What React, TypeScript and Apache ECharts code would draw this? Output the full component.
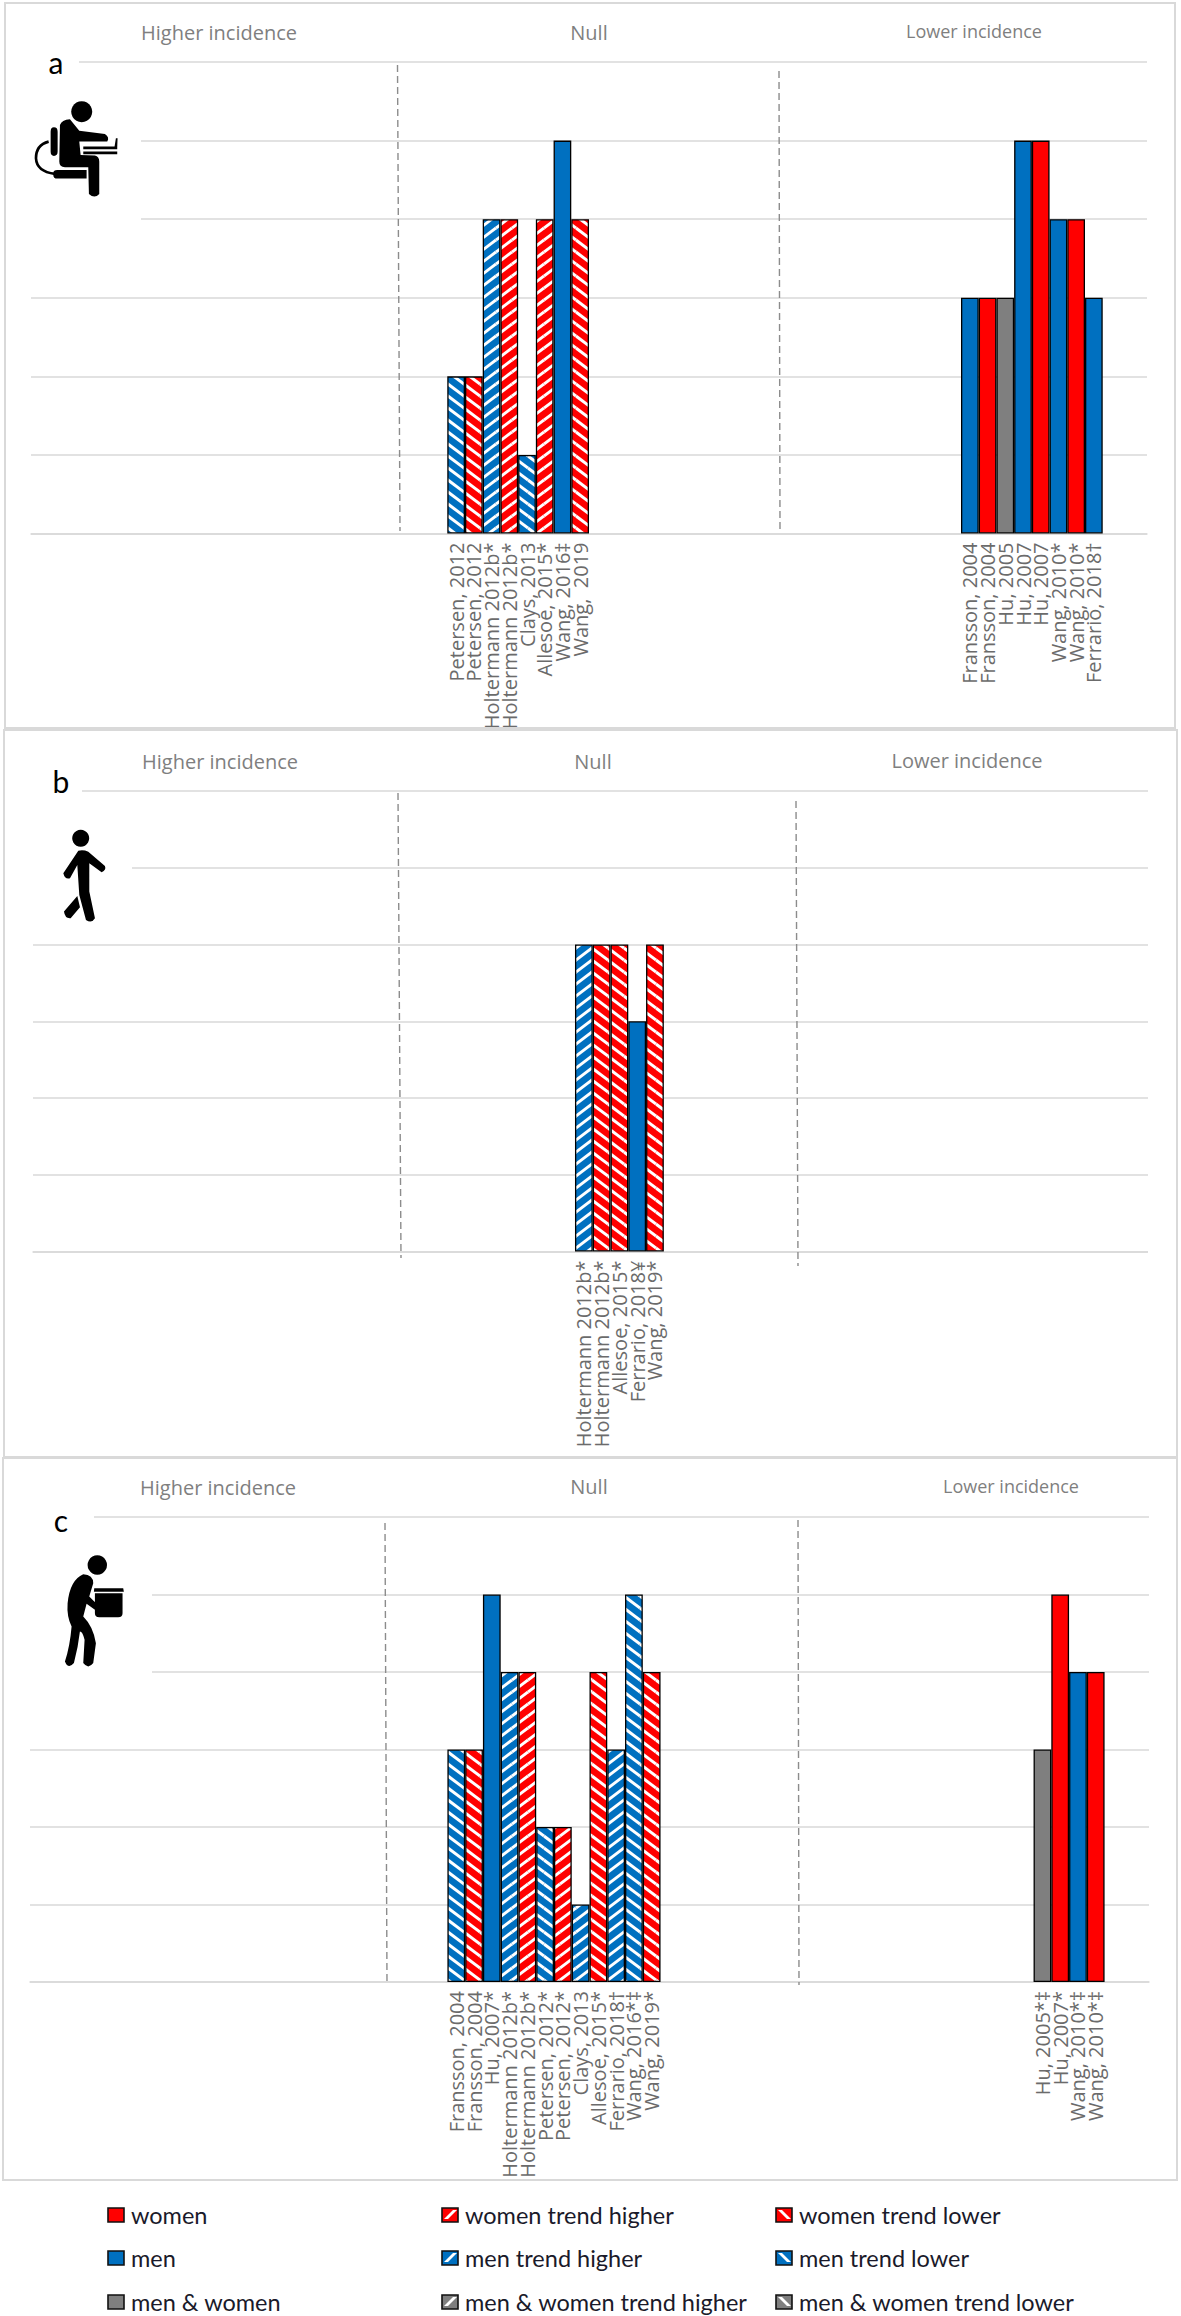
import React, { useEffect, useRef } from "react";
import * as echarts from "echarts";

const panelACategories = ["Petersen, 2012", "Petersen, 2012", "Holtermann 2012b*", "Holtermann 2012b*", "Clays, 2013", "Allesoe, 2015*", "Wang, 2016‡", "Wang,  2019"];
const panelAValues = [2, 2, 4, 4, 1, 4, 5, 4];
const panelAKinds = ["mL", "wL", "mH", "wH", "mL", "wH", "m", "wL"];
const panelALowerCategories = ["Fransson, 2004", "Fransson, 2004", "Hu, 2005", "Hu, 2007", "Hu, 2007", "Wang, 2010*", "Wang, 2010*", "Ferrario, 2018†"];
const panelALowerValues = [3, 3, 3, 5, 5, 4, 4, 3];
const panelALowerKinds = ["m", "w", "g", "m", "w", "m", "w", "m"];

const panelBCategories = ["Holtermann 2012b*", "Holtermann 2012b*", "Allesoe, 2015*", "Ferrario, 2018¥", "Wang, 2019*"];
const panelBValues = [4, 4, 4, 3, 4];
const panelBKinds = ["mH", "wL", "wL", "m", "wL"];

const panelCCategories = ["Fransson, 2004", "Fransson, 2004", "Hu, 2007*", "Holtermann 2012b*", "Holtermann 2012b*", "Petersen, 2012*", "Petersen, 2012*", "Clays, 2013", "Allesoe, 2015*", "Ferrario, 2018†", "Wang, 2016*‡", "Wang, 2019*"];
const panelCValues = [3, 3, 5, 4, 4, 2, 2, 1, 4, 3, 5, 4];
const panelCKinds = ["mL", "wL", "m", "mH", "wH", "mL", "wH", "mH", "wL", "mH", "mL", "wL"];
const panelCLowerCategories = ["Hu, 2005*‡", "Hu, 2007*", "Wang, 2010*‡", "Wang, 2010*‡"];
const panelCLowerValues = [3, 5, 4, 4];
const panelCLowerKinds = ["g", "w", "m", "w"];

const headers = ["Higher incidence", "Null", "Lower incidence"];
const legendRows = [
  [["women", "w"], ["women trend higher", "wH"], ["women trend lower", "wL"]],
  [["men", "m"], ["men trend higher", "mH"], ["men trend lower", "mL"]],
  [["men & women", "g"], ["men & women trend higher", "gH"], ["men & women trend lower", "gL"]],
];

const RED = "#FF0000";
const BLUE = "#0070C0";
const GREY = "#7F7F7F";
const baseColor = (k: string) => (k[0] === "w" ? RED : k[0] === "m" ? BLUE : GREY);

function hatch(color: string, up: boolean) {
  const w = 16;
  const h = 12;
  const c = document.createElement("canvas");
  c.width = w;
  c.height = h;
  const g = c.getContext("2d")!;
  g.fillStyle = color;
  g.fillRect(0, 0, w, h);
  g.strokeStyle = "#ffffff";
  g.lineWidth = 3;
  for (const [dx, dy] of [[-w, 0], [0, 0], [w, 0], [0, -h], [0, h], [-w, h], [w, -h], [-w, -h], [w, h]]) {
    g.beginPath();
    if (up) {
      g.moveTo(dx, dy + h);
      g.lineTo(dx + w, dy);
    } else {
      g.moveTo(dx, dy);
      g.lineTo(dx + w, dy + h);
    }
    g.stroke();
  }
  return { image: c, repeat: "repeat" };
}

const ICON_A = "M120 105 Q125 90 150 88 L178 122 L255 132 Q270 142 262 155 L178 155 L182 195 L225 197 Q238 200 238 215 L238 312 Q224 328 207 312 L205 232 L135 232 Q118 232 118 215 Z M92 125 Q92 112 102 112 Q113 112 113 125 L113 185 Q113 198 102 198 Q92 198 92 185 Z M100 250 Q100 240 112 240 L200 240 L200 266 L112 266 Q100 266 100 255 Z M190 170 L292 170 L292 178 L190 178 Z M190 185 L292 185 L292 193 L190 193 Z M284 170 L288 145 L293 145 L292 172 Z";
const ICON_A_ARC = "M86 155 Q48 165 48 205 Q50 245 105 252";
const ICON_B = "M85 92 Q100 88 115 95 L165 138 Q170 150 155 157 L118 130 L118 215 L135 295 Q125 312 108 300 L88 225 L82 135 L60 175 Q45 180 40 160 Z M82 228 L90 262 L62 295 Q45 297 42 275 Z";
const ICON_C = "M250 373 Q280 375 280 400 L268 440 L290 462 L285 480 L260 462 L250 500 Q280 530 288 580 L280 640 Q265 660 250 640 L254 570 Q248 545 240 545 Q235 590 222 640 Q205 660 195 635 Q210 590 215 530 Q200 500 203 460 Q210 390 250 373 Z M285 430 L368 430 L368 490 Q368 502 355 502 L298 502 Q285 502 285 490 Z M283 415 L370 415 L372 426 L282 426 Z";

function App() {
  const ref = useRef<HTMLDivElement>(null);
  useEffect(() => {
    document.body.style.margin = "0";
    echarts.graphic.registerShape("iconA", echarts.graphic.extendPath(ICON_A, {}));
    echarts.graphic.registerShape("iconAArc", echarts.graphic.extendPath(ICON_A_ARC, {}));
    echarts.graphic.registerShape("iconB", echarts.graphic.extendPath(ICON_B, {}));
    echarts.graphic.registerShape("iconC", echarts.graphic.extendPath(ICON_C, {}));
    const chart = echarts.init(ref.current!, null, { renderer: "svg" });

    const fills: Record<string, any> = {
      w: RED, m: BLUE, g: GREY,
      wH: hatch(RED, true), wL: hatch(RED, false),
      mH: hatch(BLUE, true), mL: hatch(BLUE, false),
    };

    const panels = [
      { left: 31, width: 1116, top: 62, height: 471.5, before: 24, cats: panelACategories, vals: panelAValues, kinds: panelAKinds, lcats: panelALowerCategories, lvals: panelALowerValues, lkinds: panelALowerKinds },
      { left: 33, width: 1119.5, top: 791, height: 460.5, before: 31, cats: panelBCategories, vals: panelBValues, kinds: panelBKinds, lcats: [], lvals: [], lkinds: [] },
      { left: 30, width: 1119, top: 1517, height: 465, before: 24, cats: panelCCategories, vals: panelCValues, kinds: panelCKinds, lcats: panelCLowerCategories, lvals: panelCLowerValues, lkinds: panelCLowerKinds },
    ];
    const TOTAL = 64;
    const GAP = 21;

    const grid: any[] = [];
    const xAxis: any[] = [];
    const yAxis: any[] = [];
    const series: any[] = [];
    panels.forEach((p, i) => {
      const cats = [...p.cats, ...Array(GAP).fill(""), ...p.lcats];
      const vals = [...p.vals, ...Array(GAP).fill(null), ...p.lvals];
      const kinds = [...p.kinds, ...Array(GAP).fill(""), ...p.lkinds];
      const lead = Array(p.before).fill("");
      const tail = Array(Math.max(0, TOTAL - p.before - cats.length)).fill("");
      const categories = [...lead, ...cats, ...tail];
      const data = [...lead.map(() => null), ...vals.map((v, j) => (v == null ? null : {
        value: v,
        itemStyle: { color: fills[kinds[j]], borderColor: "#000", borderWidth: 1.3 },
      })), ...tail.map(() => null)];
      grid.push({ left: p.left, width: p.width, top: p.top, height: p.height, containLabel: false });
      xAxis.push({
        type: "category", gridIndex: i, data: categories, boundaryGap: false,
        axisLine: { show: true, lineStyle: { color: "#D9D9D9", width: 1.5 } },
        axisTick: { show: false },
        axisLabel: { show: true, interval: 0, rotate: 90, margin: 9, color: "#6b6b6b", fontFamily: "Open Sans", fontSize: 20, showMinLabel: true, showMaxLabel: true, hideOverlap: false },
      });
      yAxis.push({
        type: "value", gridIndex: i, min: 0, max: 6, interval: 1,
        axisLabel: { show: false }, axisLine: { show: false }, axisTick: { show: false },
        splitLine: { show: true, lineStyle: { color: "#D9D9D9", width: 1.5 } },
      });
      series.push({
        type: "bar", xAxisIndex: i, yAxisIndex: i, data, barWidth: p.width / (TOTAL - 1), barGap: "0%", clip: false, silent: true,
      });
    });

    const text = (t: string, x: number, y: number, opts: any) => ({
      type: "text", x, y, z: 30,
      style: { text: t, textVerticalAlign: "middle", ...opts },
    });
    const mask = (x: number, y: number, width: number, height: number) => ({
      type: "rect", shape: { x, y, width, height }, z: 10, style: { fill: "#fff" }, silent: true,
    });
    const frame = (x: number, y: number, x2: number, y2: number) => ({
      type: "rect", shape: { x, y, width: x2 - x, height: y2 - y }, z: 5,
      style: { fill: "none", stroke: "#D9D9D9", lineWidth: 2 }, silent: true,
    });
    const dash = (x1: number, y1: number, x2: number, y2: number) => ({
      type: "line", shape: { x1, y1, x2, y2 }, z: 20,
      style: { stroke: "#8C8C8C", lineWidth: 1.4, lineDash: [7, 4] }, silent: true,
    });
    const header = (idx: number, x: number, y: number, fontSize: number) =>
      text(headers[idx], x, y, { fill: "#7F7F7F", fontFamily: "Open Sans", fontSize, textAlign: "center" });
    const letter = (t: string, x: number, y: number) =>
      text(t, x, y, { fill: "#000", fontFamily: "Lato", fontSize: 30, textAlign: "center" });

    const graphics: any[] = [
      frame(5, 3, 1175, 728), frame(4, 730, 1177, 1457), frame(3, 1458, 1177, 2180),
      mask(25, 52, 54, 20), mask(25, 128, 116, 100),
      mask(25, 781, 57, 20), mask(25, 858, 107, 20),
      mask(25, 1507, 69, 20), mask(25, 1585, 127, 100),
      mask(1148, 781, 10, 480),
      dash(397.5, 65, 400, 531), dash(779, 71, 780, 530),
      dash(398, 793, 401, 1258), dash(796, 801, 798, 1266),
      dash(385, 1523, 387, 1985), dash(798, 1520, 799, 1985),
      header(0, 219, 32, 20), header(1, 589, 32, 20), header(2, 974, 31, 18),
      header(0, 220, 761, 20), header(1, 593, 761, 20), header(2, 967, 760, 20),
      header(0, 218, 1487, 20), header(1, 589, 1486, 20), header(2, 1011, 1486, 18),
      letter("a", 56, 62), letter("b", 61, 781), letter("c", 61, 1520),
      { type: "iconA", x: 20, y: 90, scaleX: 1 / 3, scaleY: 1 / 3, z: 30, style: { fill: "#000" } },
      { type: "iconAArc", x: 20, y: 90, scaleX: 1 / 3, scaleY: 1 / 3, z: 30, style: { fill: "none", stroke: "#000", lineWidth: 8 } },
      { type: "iconB", x: 50, y: 820, scaleX: 1 / 3, scaleY: 1 / 3, z: 30, style: { fill: "#000" } },
      { type: "circle", shape: { cx: 80.7, cy: 838.3, r: 8.5 }, z: 30, style: { fill: "#000" } },
      { type: "circle", shape: { cx: 81.7, cy: 111.7, r: 10.5 }, z: 30, style: { fill: "#000" } },
      { type: "iconC", x: 0, y: 1450, scaleX: 1 / 3, scaleY: 1 / 3, z: 30, style: { fill: "#000" } },
      { type: "circle", shape: { cx: 97.3, cy: 1565, r: 9.7 }, z: 30, style: { fill: "#000" } },
    ];

    const colX = [108, 442, 776];
    const rowY = [2215, 2258, 2302];
    legendRows.forEach((row, r) => {
      row.forEach(([label, kind], c) => {
        const x = colX[c];
        const y = rowY[r] - 7;
        graphics.push({ type: "rect", shape: { x, y, width: 16, height: 14 }, z: 30, style: { fill: baseColor(kind) } });
        if (kind.length > 1) {
          const up = kind[1] === "H";
          const pts = up
            ? [[x + 2, y + 11], [x + 11, y + 2], [x + 15, y + 2], [x + 6, y + 11]]
            : [[x + 2, y + 2], [x + 6, y + 2], [x + 15, y + 11], [x + 11, y + 11]];
          graphics.push({ type: "polygon", shape: { points: pts }, z: 31, style: { fill: "#fff" } });
        }
        graphics.push({ type: "rect", shape: { x, y, width: 16, height: 14 }, z: 32, style: { fill: "none", stroke: "#111", lineWidth: 1.6 } });
        graphics.push(text(label as string, x + 23, rowY[r], { fill: "#1a1a2a", fontFamily: "Lato", fontSize: 23.5, textAlign: "left" }));
      });
    });

    chart.setOption({
      animation: false,
      backgroundColor: "#fff",
      grid, xAxis, yAxis, series,
      graphic: { elements: graphics },
    });
    return () => chart.dispose();
  }, []);
  return <div ref={ref} style={{ width: 1181, height: 2316, position: "absolute", left: 0, top: 0 }} />;
}

export default App;
